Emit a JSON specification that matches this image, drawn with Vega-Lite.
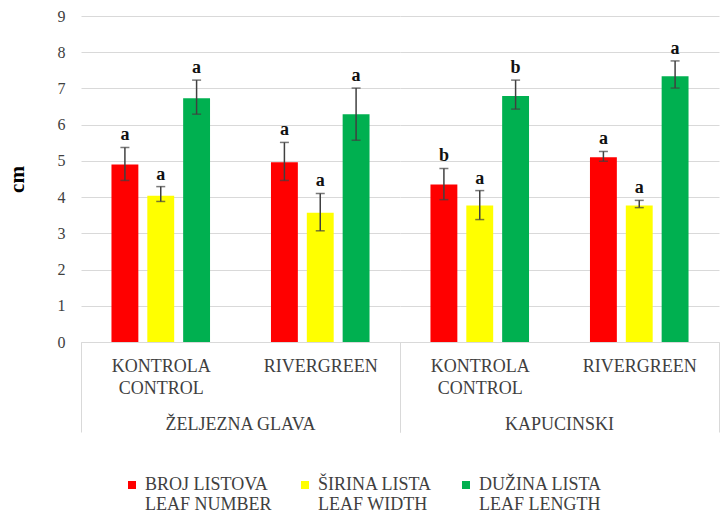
{
  "$schema": "https://vega.github.io/schema/vega-lite/v6.json",
  "padding": {"left": 6, "top": 8, "right": 0, "bottom": 0},
  "background": "white",
  "data": {"values": [
    {"cultivar": "ŽELJEZNA GLAVA", "treatment": "KONTROLA", "series": "BROJ LISTOVA|LEAF NUMBER", "mean": 4.90, "lo": 4.46, "hi": 5.37, "letter": "a"},
    {"cultivar": "ŽELJEZNA GLAVA", "treatment": "KONTROLA", "series": "ŠIRINA LISTA|LEAF WIDTH", "mean": 4.04, "lo": 3.88, "hi": 4.29, "letter": "a"},
    {"cultivar": "ŽELJEZNA GLAVA", "treatment": "KONTROLA", "series": "DUŽINA LISTA|LEAF LENGTH", "mean": 6.73, "lo": 6.29, "hi": 7.23, "letter": "a"},
    {"cultivar": "ŽELJEZNA GLAVA", "treatment": "RIVERGREEN", "series": "BROJ LISTOVA|LEAF NUMBER", "mean": 4.96, "lo": 4.46, "hi": 5.51, "letter": "a"},
    {"cultivar": "ŽELJEZNA GLAVA", "treatment": "RIVERGREEN", "series": "ŠIRINA LISTA|LEAF WIDTH", "mean": 3.57, "lo": 3.07, "hi": 4.10, "letter": "a"},
    {"cultivar": "ŽELJEZNA GLAVA", "treatment": "RIVERGREEN", "series": "DUŽINA LISTA|LEAF LENGTH", "mean": 6.29, "lo": 5.57, "hi": 7.01, "letter": "a"},
    {"cultivar": "KAPUCINSKI", "treatment": "KONTROLA", "series": "BROJ LISTOVA|LEAF NUMBER", "mean": 4.35, "lo": 3.93, "hi": 4.79, "letter": "b"},
    {"cultivar": "KAPUCINSKI", "treatment": "KONTROLA", "series": "ŠIRINA LISTA|LEAF WIDTH", "mean": 3.77, "lo": 3.38, "hi": 4.18, "letter": "a"},
    {"cultivar": "KAPUCINSKI", "treatment": "KONTROLA", "series": "DUŽINA LISTA|LEAF LENGTH", "mean": 6.79, "lo": 6.43, "hi": 7.23, "letter": "b"},
    {"cultivar": "KAPUCINSKI", "treatment": "RIVERGREEN", "series": "BROJ LISTOVA|LEAF NUMBER", "mean": 5.10, "lo": 4.99, "hi": 5.26, "letter": "a"},
    {"cultivar": "KAPUCINSKI", "treatment": "RIVERGREEN", "series": "ŠIRINA LISTA|LEAF WIDTH", "mean": 3.77, "lo": 3.71, "hi": 3.91, "letter": "a"},
    {"cultivar": "KAPUCINSKI", "treatment": "RIVERGREEN", "series": "DUŽINA LISTA|LEAF LENGTH", "mean": 7.34, "lo": 7.01, "hi": 7.76, "letter": "a"}
  ]},
  "facet": {
    "column": {
      "field": "cultivar",
      "type": "nominal",
      "sort": ["ŽELJEZNA GLAVA", "KAPUCINSKI"],
      "header": {
        "title": null,
        "labelOrient": "bottom",
        "labelFontSize": 18,
        "labelColor": "#404040",
        "labelPadding": -17
      }
    }
  },
  "spacing": 0,
  "spec": {
    "width": 319,
    "height": 326,
    "encoding": {
      "x": {
        "field": "treatment",
        "type": "nominal",
        "sort": ["KONTROLA", "RIVERGREEN"],
        "scale": {"paddingInner": 0, "paddingOuter": 0},
        "axis": {
          "title": null,
          "labelAngle": 0,
          "labelFontSize": 18,
          "labelColor": "#404040",
          "labelLineHeight": 22,
          "labelExpr": "datum.value == 'KONTROLA' ? ['KONTROLA', 'CONTROL'] : datum.value",
          "labelPadding": -75,
          "labelBaseline": "top",
          "domainColor": "#d9d9d9",
          "tickBand": "extent",
          "tickSize": 90,
          "tickColor": "#d9d9d9",
          "tickOpacity": {"condition": {"test": "datum.value === 'KONTROLA'", "value": 0}, "value": 1}
        }
      },
      "xOffset": {
        "field": "series",
        "type": "nominal",
        "sort": ["BROJ LISTOVA|LEAF NUMBER", "ŠIRINA LISTA|LEAF WIDTH", "DUŽINA LISTA|LEAF LENGTH"],
        "scale": {"paddingInner": 0.25, "paddingOuter": 0.85}
      }
    },
    "layer": [
      {
        "mark": {"type": "bar"},
        "encoding": {
          "y": {
            "field": "mean",
            "type": "quantitative",
            "scale": {"domain": [0, 9], "nice": false},
            "axis": {
              "title": "cm",
              "tickCount": 10,
              "titleFontSize": 21,
              "titleFontWeight": "bold",
              "titleColor": "#000000",
              "titlePadding": 30,
              "labelFontSize": 16,
              "labelColor": "#404040",
              "labelPadding": 16,
              "domain": false,
              "ticks": false,
              "grid": true,
              "gridColor": "#d9d9d9",
              "gridWidth": 1
            }
          },
          "color": {
            "field": "series",
            "type": "nominal",
            "sort": ["BROJ LISTOVA|LEAF NUMBER", "ŠIRINA LISTA|LEAF WIDTH", "DUŽINA LISTA|LEAF LENGTH"],
            "scale": {"range": ["#ff0000", "#ffff00", "#00b050"]},
            "legend": {
              "title": null,
              "orient": "bottom",
              "direction": "horizontal",
              "offset": 42,
              "symbolType": "square",
              "symbolSize": 64,
              "symbolStrokeWidth": 0,
              "labelFontSize": 18,
              "labelColor": "#404040",
              "labelLineHeight": 20,
              "labelLimit": 300,
              "labelOffset": 4,
              "columnPadding": 24,
              "labelExpr": "split(datum.label, '|')"
            }
          }
        }
      },
      {
        "mark": {"type": "rule", "color": "#404040", "strokeWidth": 1.5},
        "encoding": {
          "y": {"field": "lo", "type": "quantitative"},
          "y2": {"field": "hi"}
        }
      },
      {
        "mark": {"type": "tick", "color": "#404040", "size": 9, "thickness": 1.5},
        "encoding": {
          "y": {"field": "lo", "type": "quantitative"}
        }
      },
      {
        "mark": {"type": "tick", "color": "#404040", "size": 9, "thickness": 1.5},
        "encoding": {
          "y": {"field": "hi", "type": "quantitative"}
        }
      },
      {
        "mark": {"type": "text", "font": "Liberation Serif", "fontSize": 18, "fontWeight": "bold", "color": "#111111", "baseline": "alphabetic", "dy": -7},
        "encoding": {
          "y": {"field": "hi", "type": "quantitative"},
          "text": {"field": "letter"}
        }
      }
    ]
  },
  "config": {
    "font": "Liberation Serif",
    "view": {"stroke": null},
    "axis": {"labelFont": "Liberation Serif", "titleFont": "Liberation Serif"},
    "axisY": {"grid": true, "tickCount": 10},
    "axisX": {"grid": false},
    "legend": {"labelFont": "Liberation Serif", "layout": {"bottom": {"anchor": "middle"}}},
    "header": {"labelFont": "Liberation Serif"}
  }
}
